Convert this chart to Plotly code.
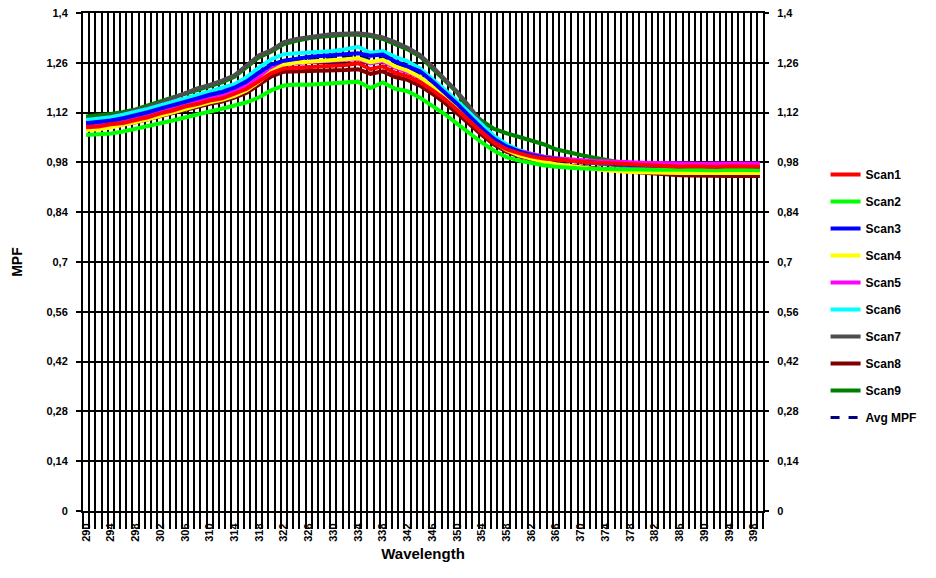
import plotly.graph_objects as go

wavelength = [290, 292, 294, 296, 298, 300, 302, 304, 306, 308, 310, 312, 314, 316, 318, 320,
              322, 324, 326, 328, 330, 332, 334, 336, 338, 340, 342, 344, 346, 348, 350, 352,
              354, 356, 358, 360, 362, 364, 366, 368, 370, 372, 374, 376, 378, 380, 382, 384,
              386, 388, 390, 392, 394, 396, 398, 399]

scan1 = [1.079, 1.081, 1.087, 1.091, 1.099, 1.107, 1.118, 1.126, 1.137, 1.144, 1.154, 1.160, 1.173, 1.187, 1.209, 1.231,
         1.244, 1.246, 1.247, 1.250, 1.251, 1.254, 1.259, 1.242, 1.250, 1.232, 1.222, 1.206, 1.183, 1.158, 1.128, 1.096,
         1.065, 1.036, 1.017, 1.006, 0.997, 0.991, 0.988, 0.984, 0.982, 0.979, 0.978, 0.976, 0.974, 0.972, 0.971, 0.969,
         0.968, 0.969, 0.968, 0.967, 0.969, 0.968, 0.969, 0.968]
scan2 = [1.057, 1.058, 1.061, 1.067, 1.074, 1.081, 1.090, 1.098, 1.107, 1.115, 1.123, 1.131, 1.139, 1.149, 1.163, 1.183,
         1.196, 1.199, 1.198, 1.200, 1.201, 1.203, 1.207, 1.189, 1.205, 1.187, 1.180, 1.162, 1.140, 1.116, 1.089, 1.062,
         1.036, 1.013, 0.995, 0.985, 0.978, 0.972, 0.968, 0.965, 0.963, 0.962, 0.961, 0.961, 0.960, 0.960, 0.959, 0.960,
         0.959, 0.958, 0.959, 0.958, 0.959, 0.958, 0.959, 0.958]
scan3 = [1.090, 1.093, 1.098, 1.104, 1.112, 1.121, 1.131, 1.140, 1.150, 1.160, 1.170, 1.178, 1.190, 1.208, 1.233, 1.255,
         1.266, 1.272, 1.276, 1.279, 1.281, 1.284, 1.287, 1.280, 1.283, 1.264, 1.251, 1.236, 1.208, 1.177, 1.145, 1.110,
         1.076, 1.046, 1.025, 1.011, 1.001, 0.994, 0.989, 0.985, 0.982, 0.979, 0.977, 0.975, 0.973, 0.971, 0.969, 0.968,
         0.967, 0.966, 0.966, 0.965, 0.966, 0.965, 0.965, 0.965]
scan4 = [1.071, 1.073, 1.078, 1.085, 1.092, 1.101, 1.111, 1.121, 1.131, 1.139, 1.149, 1.156, 1.167, 1.183, 1.207, 1.236,
         1.255, 1.261, 1.264, 1.266, 1.268, 1.270, 1.273, 1.262, 1.268, 1.250, 1.238, 1.220, 1.195, 1.168, 1.138, 1.103,
         1.068, 1.038, 1.015, 1.000, 0.990, 0.982, 0.975, 0.970, 0.966, 0.962, 0.958, 0.955, 0.953, 0.952, 0.951, 0.951,
         0.950, 0.951, 0.950, 0.950, 0.951, 0.950, 0.950, 0.950]
scan5 = [1.084, 1.087, 1.092, 1.097, 1.105, 1.114, 1.124, 1.133, 1.143, 1.151, 1.161, 1.168, 1.180, 1.196, 1.220, 1.243,
         1.256, 1.260, 1.262, 1.264, 1.265, 1.268, 1.271, 1.258, 1.264, 1.246, 1.234, 1.218, 1.193, 1.166, 1.136, 1.103,
         1.071, 1.044, 1.024, 1.012, 1.003, 0.996, 0.992, 0.989, 0.986, 0.984, 0.983, 0.981, 0.980, 0.979, 0.978, 0.977,
         0.977, 0.977, 0.976, 0.977, 0.976, 0.977, 0.977, 0.977]
scan6 = [1.099, 1.102, 1.107, 1.114, 1.121, 1.130, 1.140, 1.149, 1.160, 1.170, 1.180, 1.188, 1.200, 1.220, 1.247, 1.270,
         1.284, 1.287, 1.289, 1.291, 1.293, 1.298, 1.305, 1.288, 1.293, 1.277, 1.264, 1.244, 1.216, 1.185, 1.153, 1.120,
         1.085, 1.054, 1.031, 1.015, 1.004, 0.996, 0.990, 0.986, 0.982, 0.979, 0.977, 0.975, 0.973, 0.971, 0.969, 0.968,
         0.967, 0.966, 0.966, 0.965, 0.965, 0.965, 0.966, 0.965]
scan7 = [1.100, 1.104, 1.110, 1.117, 1.125, 1.135, 1.147, 1.160, 1.175, 1.188, 1.198, 1.210, 1.225, 1.254, 1.281, 1.296,
         1.318, 1.327, 1.333, 1.337, 1.341, 1.343, 1.343, 1.339, 1.331, 1.318, 1.302, 1.282, 1.250, 1.214, 1.179, 1.137,
         1.090, 1.052, 1.028, 1.013, 1.003, 0.996, 0.990, 0.986, 0.982, 0.978, 0.975, 0.972, 0.970, 0.968, 0.966, 0.965,
         0.964, 0.963, 0.963, 0.962, 0.962, 0.962, 0.962, 0.962]
scan8 = [1.074, 1.076, 1.081, 1.086, 1.093, 1.101, 1.110, 1.119, 1.128, 1.136, 1.145, 1.151, 1.162, 1.176, 1.198, 1.222,
         1.235, 1.236, 1.235, 1.237, 1.238, 1.240, 1.242, 1.229, 1.236, 1.220, 1.212, 1.196, 1.173, 1.148, 1.118, 1.087,
         1.057, 1.030, 1.010, 0.997, 0.988, 0.981, 0.975, 0.971, 0.967, 0.963, 0.960, 0.957, 0.954, 0.951, 0.948, 0.946,
         0.944, 0.943, 0.942, 0.943, 0.942, 0.942, 0.943, 0.942]
scan9 = [1.109, 1.112, 1.116, 1.122, 1.129, 1.140, 1.152, 1.163, 1.173, 1.184, 1.194, 1.205, 1.221, 1.249, 1.276, 1.292,
         1.313, 1.322, 1.329, 1.333, 1.337, 1.339, 1.339, 1.335, 1.327, 1.314, 1.298, 1.278, 1.246, 1.211, 1.177, 1.126,
         1.097, 1.074, 1.062, 1.052, 1.041, 1.031, 1.017, 1.008, 1.001, 0.994, 0.987, 0.981, 0.976, 0.972, 0.968, 0.965,
         0.962, 0.960, 0.958, 0.957, 0.957, 0.956, 0.956, 0.956]
avg_mpf = [1.085, 1.088, 1.092, 1.098, 1.106, 1.115, 1.125, 1.134, 1.145, 1.154, 1.164, 1.172, 1.184, 1.202, 1.226, 1.248,
           1.263, 1.268, 1.270, 1.273, 1.275, 1.277, 1.281, 1.269, 1.274, 1.256, 1.245, 1.227, 1.200, 1.171, 1.140, 1.105,
           1.072, 1.044, 1.023, 1.010, 1.000, 0.993, 0.987, 0.983, 0.979, 0.976, 0.973, 0.970, 0.968, 0.966, 0.964, 0.963,
           0.962, 0.961, 0.961, 0.960, 0.961, 0.960, 0.961, 0.960]

x_tick_labels = [str(v) for v in range(290, 399, 4)]
y_tick_vals = [0, 0.14, 0.28, 0.42, 0.56, 0.7, 0.84, 0.98, 1.12, 1.26, 1.4]
y_tick_text = ["0", "0,14", "0,28", "0,42", "0,56", "0,7", "0,84", "0,98", "1,12", "1,26", "1,4"]

FONT = "Liberation Sans, Arial, sans-serif"

# drawn bottom -> top (Scan1 ends up on top), legend ordered by rank
series = [
    ("Avg MPF", avg_mpf, "#000080", "dash", 10),
    ("Scan9", scan9, "#008000", "solid", 9),
    ("Scan8", scan8, "#800000", "solid", 8),
    ("Scan7", scan7, "#4d4d4d", "solid", 7),
    ("Scan6", scan6, "#00FFFF", "solid", 6),
    ("Scan5", scan5, "#FF00FF", "solid", 5),
    ("Scan4", scan4, "#FFFF00", "solid", 4),
    ("Scan3", scan3, "#0000FF", "solid", 3),
    ("Scan2", scan2, "#00FF00", "solid", 2),
    ("Scan1", scan1, "#FF0000", "solid", 1),
]

fig = go.Figure()
for name, vals, color, dash, rank in series:
    fig.add_trace(go.Scatter(
        x=wavelength, y=vals, name=name, mode="lines",
        line=dict(color=color, width=4 if dash == "solid" else 3, dash=dash),
        legendrank=rank, legendgroup=name,
    ))

# invisible trace to carry the right-hand y axis
fig.add_trace(go.Scatter(x=[None], y=[None], yaxis="y2", showlegend=False, hoverinfo="skip"))

fig.update_layout(
    width=936, height=578,
    margin=dict(l=83, r=173, t=13, b=67),
    paper_bgcolor="white", plot_bgcolor="white",
    font=dict(family=FONT, size=11, color="black", weight="bold"),
    showlegend=True,
    legend=dict(
        x=1.092, y=0.705, xanchor="left", yanchor="top",
        font=dict(family=FONT, size=12, color="black", weight="bold"),
        tracegroupgap=8, bgcolor="rgba(0,0,0,0)",
    ),
    xaxis=dict(
        range=[289.5, 399.5],
        tickmode="array", tickvals=list(range(290, 399, 4)), ticktext=x_tick_labels,
        tickangle=-90, ticks="", showgrid=False,
        tickfont=dict(family=FONT, size=11, color="black", weight="bold"),
        ticklabelstandoff=6,
        showline=True, linecolor="black", linewidth=2, mirror=True,
        zeroline=False, automargin=False,
        minor=dict(tickmode="linear", tick0=289.5, dtick=1, showgrid=True,
                   gridcolor="black", gridwidth=1.5,
                   ticks="outside", ticklen=16, tickwidth=1.5, tickcolor="black"),
        title=dict(text="Wavelength", standoff=8,
                   font=dict(family=FONT, size=15, color="black", weight="bold")),
    ),
    yaxis=dict(
        range=[0, 1.4],
        tickmode="array", tickvals=y_tick_vals, ticktext=y_tick_text,
        ticks="outside", ticklen=5, tickwidth=1.5, tickcolor="black",
        showgrid=True, gridcolor="black", gridwidth=1.5,
        tickfont=dict(family=FONT, size=11, color="black", weight="bold"),
        ticklabelstandoff=6,
        showline=True, linecolor="black", linewidth=2, mirror=True,
        zeroline=False, automargin=False,
        title=dict(text="MPF", standoff=20,
                   font=dict(family=FONT, size=14, color="black", weight="bold")),
    ),
    yaxis2=dict(
        range=[0, 1.4], overlaying="y", side="right",
        tickmode="array", tickvals=y_tick_vals, ticktext=y_tick_text,
        ticks="outside", ticklen=5, tickwidth=1.5, tickcolor="black",
        showgrid=False, zeroline=False, automargin=False,
        tickfont=dict(family=FONT, size=11, color="black", weight="bold"),
        ticklabelstandoff=6,
    ),
)

fig.write_html("out.html")
